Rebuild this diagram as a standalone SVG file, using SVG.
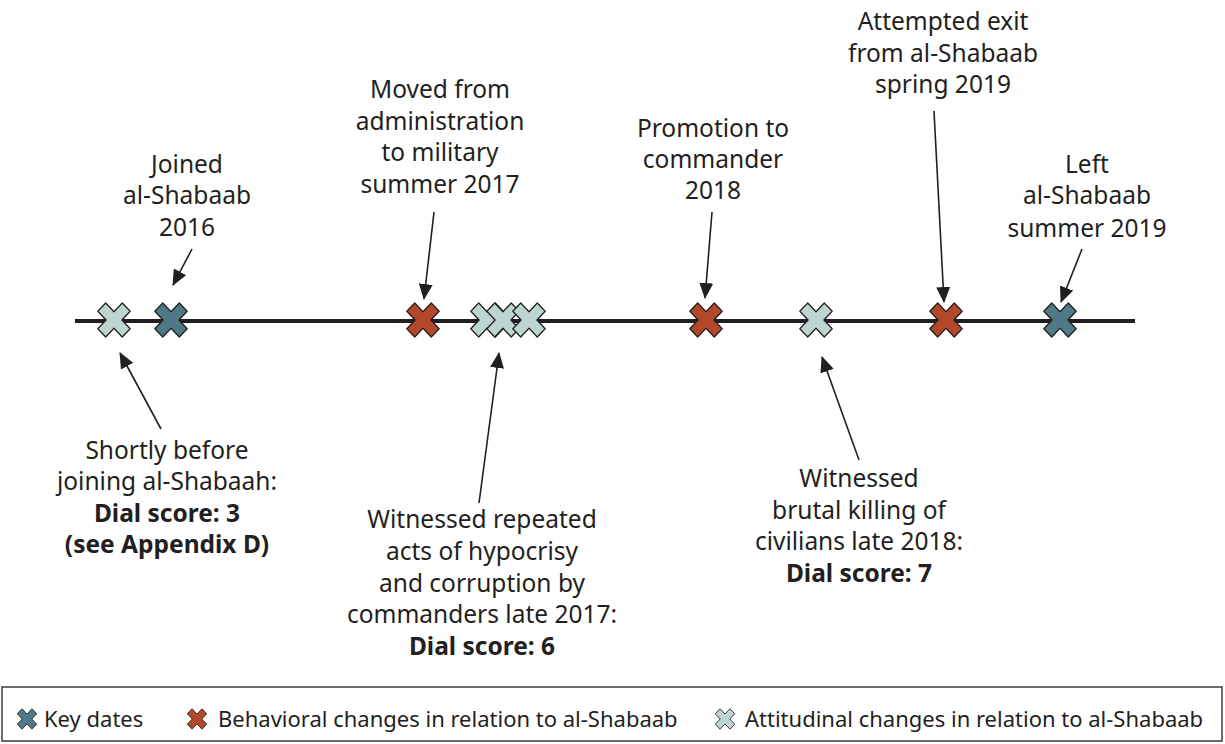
<svg xmlns="http://www.w3.org/2000/svg" xmlns:xlink="http://www.w3.org/1999/xlink" width="1225" height="744" viewBox="0 0 1225 744">
<style>
  text { font-family: "Noto Sans", "Open Sans", sans-serif; font-size: 24.5px; fill: #231f20; }
  .lab { text-anchor: middle; }
  .b { font-weight: bold; }
  .leg { font-size: 22px; }
  .key { fill: #4e7a88; }
  .beh { fill: #b3472a; }
  .att { fill: #bcd5d1; }
  .conn line { stroke: #231f20; stroke-width: 1.6; marker-end: url(#ah); }
  .xs { stroke: #231f20; stroke-width: 1.3; stroke-linejoin: round; }
</style>
<defs>
  <marker id="ah" markerUnits="userSpaceOnUse" markerWidth="16" markerHeight="14" refX="15" refY="7" orient="auto" viewBox="0 0 16 14">
    <path d="M0,0 L16,7 L0,14 z" fill="#231f20"/>
  </marker>
  <g id="xm">
    <polygon class="xs" transform="scale(1,1.05) rotate(45)" points="5.6,-17.3 5.6,-5.6 17.3,-5.6 17.3,5.6 5.6,5.6 5.6,17.3 -5.6,17.3 -5.6,5.6 -17.3,5.6 -17.3,-5.6 -5.6,-5.6 -5.6,-17.3"/>
  </g>
</defs>
<rect width="1225" height="744" fill="#ffffff"/>

<line x1="75" y1="321" x2="1135" y2="321" stroke="#231f20" stroke-width="4"/>

<g id="connectors" class="conn">
  <line x1="192" y1="249" x2="173" y2="285"/>
  <line x1="434" y1="212" x2="424" y2="299"/>
  <line x1="712" y1="212" x2="705" y2="298"/>
  <line x1="934" y1="111" x2="944" y2="302"/>
  <line x1="1082" y1="249" x2="1061" y2="302"/>
  <line x1="161" y1="429" x2="120" y2="353"/>
  <line x1="479" y1="503" x2="499" y2="353"/>
  <line x1="859" y1="460" x2="822" y2="357"/>
</g>

<g id="m-att1"><use href="#xm" class="att" x="114" y="320"/></g>
<g id="m-joined"><use href="#xm" class="key" x="171" y="320"/></g>
<g id="m-moved"><use href="#xm" class="beh" x="423" y="320"/></g>
<g id="m-att2">
  <use href="#xm" class="att" x="487" y="320"/>
  <use href="#xm" class="att" x="503" y="320"/>
  <use href="#xm" class="att" x="529" y="320"/>
</g>
<g id="m-promo"><use href="#xm" class="beh" x="706" y="320"/></g>
<g id="m-att3"><use href="#xm" class="att" x="816" y="320"/></g>
<g id="m-exit"><use href="#xm" class="beh" x="946" y="320"/></g>
<g id="m-left"><use href="#xm" class="key" x="1060" y="320"/></g>

<g id="n-joined">
  <text class="lab" x="187" y="173">Joined</text>
  <text class="lab" x="187" y="204">al-Shabaab</text>
  <text class="lab" x="187" y="236">2016</text>
</g>
<g id="n-moved">
  <text class="lab" x="440" y="98">Moved from</text>
  <text class="lab" x="440" y="130">administration</text>
  <text class="lab" x="440" y="161">to military</text>
  <text class="lab" x="440" y="193">summer 2017</text>
</g>
<g id="n-promo">
  <text class="lab" x="713" y="137">Promotion to</text>
  <text class="lab" x="713" y="168">commander</text>
  <text class="lab" x="713" y="199">2018</text>
</g>
<g id="n-exit">
  <text class="lab" x="943" y="30">Attempted exit</text>
  <text class="lab" x="943" y="62">from al-Shabaab</text>
  <text class="lab" x="943" y="93">spring 2019</text>
</g>
<g id="n-left">
  <text class="lab" x="1087" y="173">Left</text>
  <text class="lab" x="1087" y="204">al-Shabaab</text>
  <text class="lab" x="1087" y="237">summer 2019</text>
</g>
<g id="n-before">
  <text class="lab" x="167" y="459">Shortly before</text>
  <text class="lab" x="167" y="490">joining al-Shabaah:</text>
  <text class="lab b" x="167" y="522">Dial score: 3</text>
  <text class="lab b" x="167" y="553">(see Appendix D)</text>
</g>
<g id="n-hypocrisy">
  <text class="lab" x="482" y="528">Witnessed repeated</text>
  <text class="lab" x="482" y="560">acts of hypocrisy</text>
  <text class="lab" x="482" y="592">and corruption by</text>
  <text class="lab" x="482" y="623">commanders late 2017:</text>
  <text class="lab b" x="482" y="655">Dial score: 6</text>
</g>
<g id="n-killing">
  <text class="lab" x="859" y="487">Witnessed</text>
  <text class="lab" x="859" y="519">brutal killing of</text>
  <text class="lab" x="859" y="550">civilians late 2018:</text>
  <text class="lab b" x="859" y="582">Dial score: 7</text>
</g>

<g id="legend">
  <rect x="2" y="687" width="1220" height="54" fill="#ffffff" stroke="#3a3a3a" stroke-width="1.5"/>
  <use href="#xm" class="key" transform="translate(27,719) scale(0.6)"/>
  <text class="leg" x="44" y="727">Key dates</text>
  <use href="#xm" class="beh" transform="translate(197,719) scale(0.6)"/>
  <text class="leg" x="218" y="727">Behavioral changes in relation to al-Shabaab</text>
  <use href="#xm" class="att" transform="translate(725,719) scale(0.6)"/>
  <text class="leg" x="745" y="727">Attitudinal changes in relation to al-Shabaab</text>
</g>
</svg>
